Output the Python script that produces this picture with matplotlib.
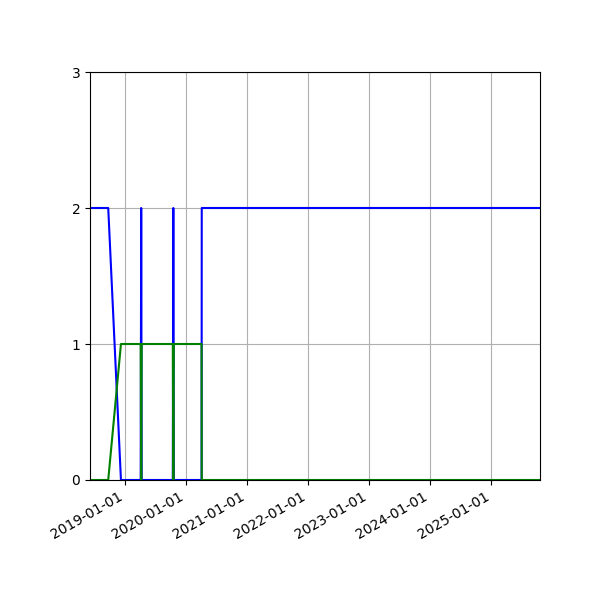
import matplotlib
matplotlib.use('Agg')  # no display
import matplotlib.pyplot as plt
import matplotlib.dates as mdates
import numpy as np

# sample dates (close/duplicated dates make the vertical steps / spikes)
dates = np.array([
    '2018-06-08', '2018-09-25', '2018-12-10',
    '2019-04-07', '2019-04-10', '2019-04-13',
    '2019-10-16', '2019-10-19', '2019-10-22',
    '2020-04-05', '2020-04-06', '2025-10-19',
], dtype='datetime64[D]')
blue_vals = [2, 2, 0, 0, 2, 0, 0, 2, 0, 0, 2, 2]
green_vals = [0, 0, 1, 1, 0, 1, 1, 0, 1, 1, 0, 0]

fig, ax = plt.subplots(figsize=(6, 6), dpi=100)
ax.plot(dates, blue_vals, color='blue')
ax.plot(dates, green_vals, color='green')

ax.set_xlim(dates[0], dates[-1])
ax.set_ylim(0, 3)
ax.set_yticks([0, 1, 2, 3])
ax.xaxis.set_major_locator(mdates.YearLocator())
ax.xaxis.set_major_formatter(mdates.DateFormatter('%Y-%m-%d'))
ax.grid(True)

fig.autofmt_xdate()
fig.subplots_adjust(left=0.15, right=0.9, top=0.88, bottom=0.2)
fig.savefig('out.png', dpi=100)
